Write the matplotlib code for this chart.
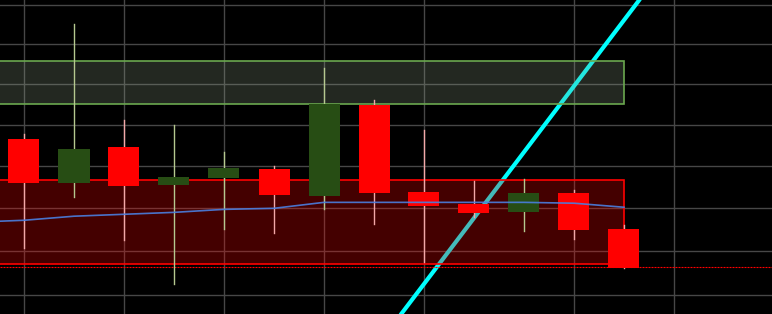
import numpy as np
import matplotlib
matplotlib.use("Agg")
import matplotlib.pyplot as plt
from matplotlib.patches import Rectangle

# candle data (one per bar, index 0..12)
opens = [102.31, 100.20, 101.92, 100.10, 100.43, 100.86, 99.59, 103.97, 99.77, 99.20, 98.84, 99.72, 98.03]
highs = [102.55, 108.04, 103.23, 102.99, 101.68, 101.01, 105.81, 104.22, 102.75, 100.29, 100.39, 99.86, 98.22]
lows = [97.15, 99.53, 97.52, 95.51, 98.03, 97.85, 98.97, 98.27, 96.53, 98.59, 97.95, 97.58, 96.25]
closes = [100.20, 101.82, 100.05, 100.48, 100.91, 99.63, 104.00, 99.72, 99.12, 98.80, 99.72, 98.00, 96.25]

# moving average, starting one bar before the first visible candle
ma_idx = [-1, 0, 1, 2, 3, 4, 5, 6, 7, 8, 9, 10, 11, 12]
ma_vals = [98.35, 98.44, 98.63, 98.72, 98.81, 98.95, 99.00, 99.28, 99.28, 99.28, 99.28, 99.28, 99.24, 99.05]

# zones (price ranges), they end at the last candle
supply_zone = (104.00, 106.15)
demand_zone = (96.41, 100.32)
level_line = 96.27

# trend line end points (bar index, price)
trend_x = [7, 13]
trend_y = [92.57, 111.68]

grid_prices = [95, 97, 99, 101, 103, 105, 107, 109]
grid_bars = [0, 2, 4, 6, 8, 11, 13]

up_body = "#274d14"
up_wick = "#b5c88f"
down_body = "#ff0000"
down_wick = "#f2a8a8"

fig = plt.figure(figsize=(7.72, 3.14), dpi=100, facecolor="black")
ax = fig.add_axes([0, 0, 1, 1])
ax.set_facecolor("black")
ax.set_yscale("log")
ax.set_xlim(-0.48, 14.96)
ax.set_ylim(94.16, 109.28)

for p in grid_prices:
    ax.axhline(p, color="#474747", lw=1, zorder=0)
for b in grid_bars:
    ax.axvline(b, color="#474747", lw=1, zorder=0)

ax.plot(trend_x, trend_y, color="#00ffff", lw=3, zorder=1, solid_capstyle="butt")

last = len(opens) - 1
x0 = -2
ax.add_patch(Rectangle((x0, supply_zone[0]), last - x0, supply_zone[1] - supply_zone[0],
                       facecolor="#8ca086", alpha=0.25, edgecolor="none", zorder=2))
ax.add_patch(Rectangle((x0, supply_zone[0]), last - x0, supply_zone[1] - supply_zone[0],
                       facecolor="none", edgecolor="#6aa84f", lw=1.2, zorder=2.1))
ax.add_patch(Rectangle((x0, demand_zone[0]), last - x0, demand_zone[1] - demand_zone[0],
                       facecolor="#ff0000", alpha=0.27, edgecolor="none", zorder=2))
ax.add_patch(Rectangle((x0, demand_zone[0]), last - x0, demand_zone[1] - demand_zone[0],
                       facecolor="none", edgecolor="#ff0000", lw=1.2, zorder=2.1))

ax.axhline(level_line, color="#ff0000", lw=0.8, ls=(0, (1.8, 0.9)), zorder=2.2)

w = 0.62
for i in range(len(opens)):
    o, h, l, c = opens[i], highs[i], lows[i], closes[i]
    up = c >= o
    ax.plot([i, i], [l, h], color=up_wick if up else down_wick, lw=1, zorder=3)
    ax.add_patch(Rectangle((i - w / 2, min(o, c)), w, abs(c - o),
                           facecolor=up_body if up else down_body, edgecolor="none", zorder=4))

ax.plot(ma_idx, ma_vals, color="#4a7fe0", lw=1.2, alpha=0.9, zorder=5)

ax.axis("off")
fig.savefig("out.png", dpi=100, facecolor="black")
